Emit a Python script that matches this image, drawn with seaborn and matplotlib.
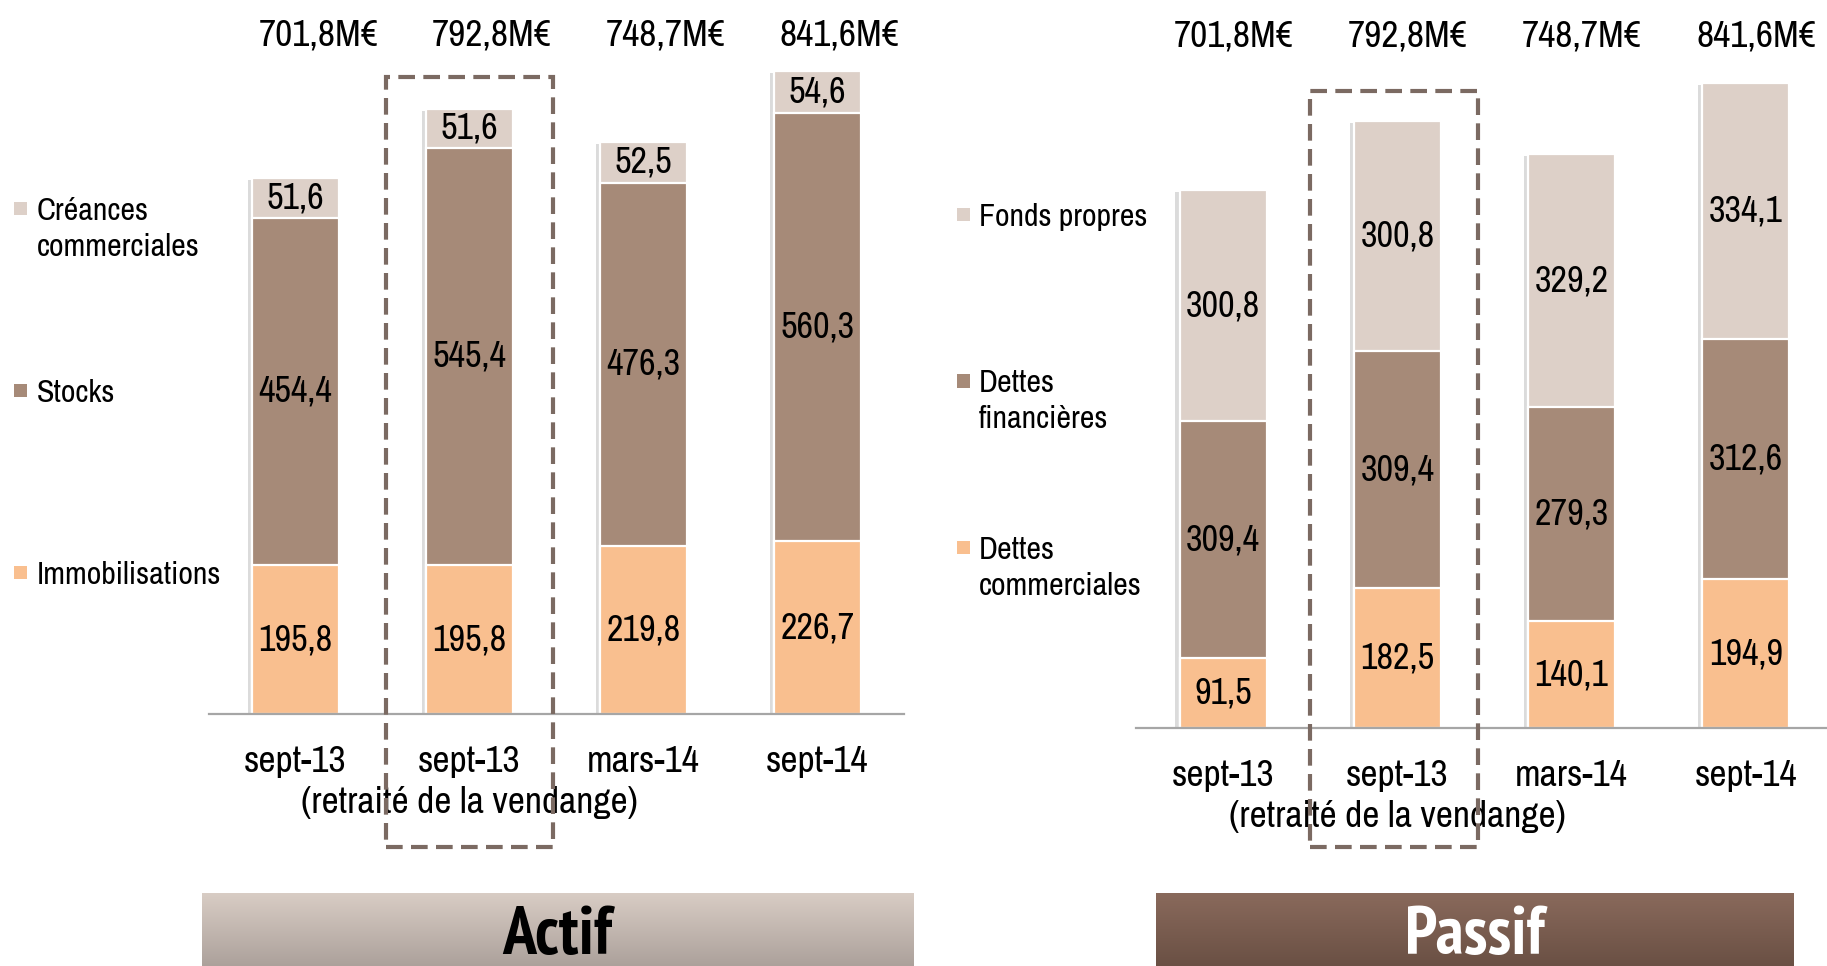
import numpy as np
import pandas as pd
import matplotlib
matplotlib.use("Agg")
import matplotlib.pyplot as plt
import matplotlib.patheffects as pe
from matplotlib.patches import Rectangle
from matplotlib.colors import LinearSegmentedColormap
from matplotlib import font_manager
import seaborn as sns

# ---- data -------------------------------------------------------------
periods = ["sept-13", "sept-13\n(retraité de la vendange)", "mars-14", "sept-14"]
totals_text = ["701,8M€", "792,8M€", "748,7M€", "841,6M€"]

actif_immobilisations = [195.8, 195.8, 219.8, 226.7]
actif_stocks = [454.4, 545.4, 476.3, 560.3]
actif_creances = [51.6, 51.6, 52.5, 54.6]
actif_names = ["Immobilisations", "Stocks", "Créances\ncommerciales"]

passif_dettes_commerciales = [91.5, 182.5, 140.1, 194.9]
passif_dettes_financieres = [309.4, 309.4, 279.3, 312.6]
passif_fonds_propres = [300.8, 300.8, 329.2, 334.1]
passif_names = ["Dettes\ncommerciales", "Dettes\nfinancières", "Fonds propres"]

# ---- style ------------------------------------------------------------
C_PEACH = "#f9bf8f"
C_BROWN = "#a68a78"
C_LIGHT = "#ddd0c8"
layer_colors = [C_PEACH, C_BROWN, C_LIGHT]

sns.set_theme(style="white")

narrow_choices = ["Liberation Sans Narrow", "Archivo Narrow", "PT Sans Narrow",
                  "Roboto Condensed", "IBM Plex Sans Condensed",
                  "Sofia Sans Condensed"]


def weight_of(entry):
    w = entry.weight
    return w if isinstance(w, int) else font_manager.weight_dict.get(w, 400)


def pick_font(min_weight):
    for name in narrow_choices:
        weights = [weight_of(f) for f in font_manager.fontManager.ttflist if f.name == name]
        if weights and max(weights) >= min_weight:
            return name
    return "Liberation Sans"


main_font = pick_font(400)
bold_font = pick_font(700)
plt.rcParams["font.family"] = [main_font, "DejaVu Sans"]

W, H = 1827, 966
fig = plt.figure(figsize=(W / 100, H / 100), dpi=100)


def fx(px):
    return px / W


def fy(py):
    return 1 - py / H


def draw_panel(rect, layers, ymax, total_dx, box):
    ax = fig.add_axes(rect)
    cum = np.cumsum(np.array(layers), axis=0)
    df = pd.DataFrame({"period": periods})
    # stacked bars: full height first, then each lower cumulative level on top
    for k in range(len(layers) - 1, -1, -1):
        df["height"] = cum[k]
        n_before = len(ax.patches)
        sns.barplot(data=df, x="period", y="height", order=periods,
                    color=layer_colors[k], saturation=1, width=0.5,
                    edgecolor="white", linewidth=1.6, ax=ax, zorder=2)
        if k == len(layers) - 1:
            for p in ax.patches[n_before:]:
                p.set_path_effects([
                    pe.SimplePatchShadow(offset=(-3, -1.5), shadow_rgbFace="0.5", alpha=0.28),
                    pe.Normal()])
    # segment values
    for k, vals in enumerate(layers):
        for i, v in enumerate(vals):
            ax.text(i, cum[k][i] - v / 2, f"{v:.1f}".replace(".", ","),
                    ha="center", va="center", fontsize=26, color="black", zorder=4)
    # totals above the bars
    for i, t in enumerate(totals_text):
        ax.text(i + total_dx, 0.951, t, transform=ax.get_xaxis_transform(),
                ha="center", va="center", fontsize=27, color="black")

    ax.set_xlim(-0.5, 3.5)
    ax.set_ylim(0, ymax)
    ax.set_xlabel("")
    ax.set_ylabel("")
    ax.set_yticks([])
    for s in ("left", "top", "right"):
        ax.spines[s].set_visible(False)
    ax.spines["bottom"].set_color("#a6a6a6")
    ax.spines["bottom"].set_linewidth(1.6)
    ax.set_xticks(np.arange(-0.5, 4.0, 1.0), minor=True)
    ax.tick_params(axis="x", which="minor", length=8, width=1.6,
                   color="#a6a6a6", direction="out")
    ax.tick_params(axis="x", which="major", length=0, pad=22, labelsize=27,
                   labelcolor="black")
    for lab in ax.get_xticklabels():
        lab.set_linespacing(1.32)
    ax.patch.set_alpha(0)

    # dashed frame around the restated period
    x0, x1, y0, y1 = box
    ax.add_patch(Rectangle((x0, y0), x1 - x0, y1 - y0, fill=False,
                           linestyle=(0, (4, 2)), linewidth=3,
                           edgecolor="#7b6a62", clip_on=False, zorder=6))
    return ax


# left panel: baseline at y=714 px, x from 208.6 to 904.2 px
draw_panel([fx(208.6), fy(714.3), fx(904.2) - fx(208.6), 714.3 / H],
           [actif_immobilisations, actif_stocks, actif_creances],
           ymax=935, total_dx=0.13, box=(0.518, 1.482, -174, 834))
# right panel: baseline at y=728 px
draw_panel([fx(1136.1), fy(728.3), 696.8 / W, 728.3 / H],
           [passif_dettes_commerciales, passif_dettes_financieres, passif_fonds_propres],
           ymax=950, total_dx=0.06, box=(0.50, 1.462, -155, 831))


# ---- legends ----------------------------------------------------------
LINE_STEP = 36  # px between the lines of a two-line legend label


def legend_entry(sq_x, txt_x, y_first, color, label):
    fig.add_artist(Rectangle((fx(sq_x), fy(y_first + 6.5)), 13 / W, 13 / H,
                             transform=fig.transFigure, facecolor=color,
                             edgecolor="none"))
    for j, line in enumerate(label.split("\n")):
        fig.text(fx(txt_x), fy(y_first + j * LINE_STEP), line, ha="left",
                 va="center_baseline", fontsize=23, color="black")


for y, c, name in zip([572.1, 390.3, 208.6], layer_colors, actif_names):
    legend_entry(14, 37, y, c, name)
for y, c, name in zip([547.6, 381.0, 214.4], layer_colors, passif_names):
    legend_entry(957, 979, y, c, name)


# ---- section banners --------------------------------------------------
def banner(x0, x1, top, c_top, c_bot, text, text_color):
    bax = fig.add_axes([fx(x0), 0, fx(x1) - fx(x0), (H - top) / H])
    cmap = LinearSegmentedColormap.from_list("band", [c_bot, c_top])
    grad = np.linspace(0, 1, 256).reshape(-1, 1)
    bax.imshow(grad, cmap=cmap, aspect="auto", origin="lower",
               extent=[0, 1, 0, 1])
    bax.set_xlim(0, 1)
    bax.set_ylim(0, 1)
    bax.axis("off")
    bax.text(0.5, 0.17, text, ha="center", va="baseline", fontsize=49,
             fontweight="bold", family=[bold_font, "DejaVu Sans"],
             color=text_color)


banner(201.6, 913.5, 892.5, "#d9cdc5", "#aca19b", "Actif", "black")
banner(1155.9, 1793.2, 892.5, "#8a6a5c", "#6a5044", "Passif", "white")

fig.savefig("out.png", dpi=100)
